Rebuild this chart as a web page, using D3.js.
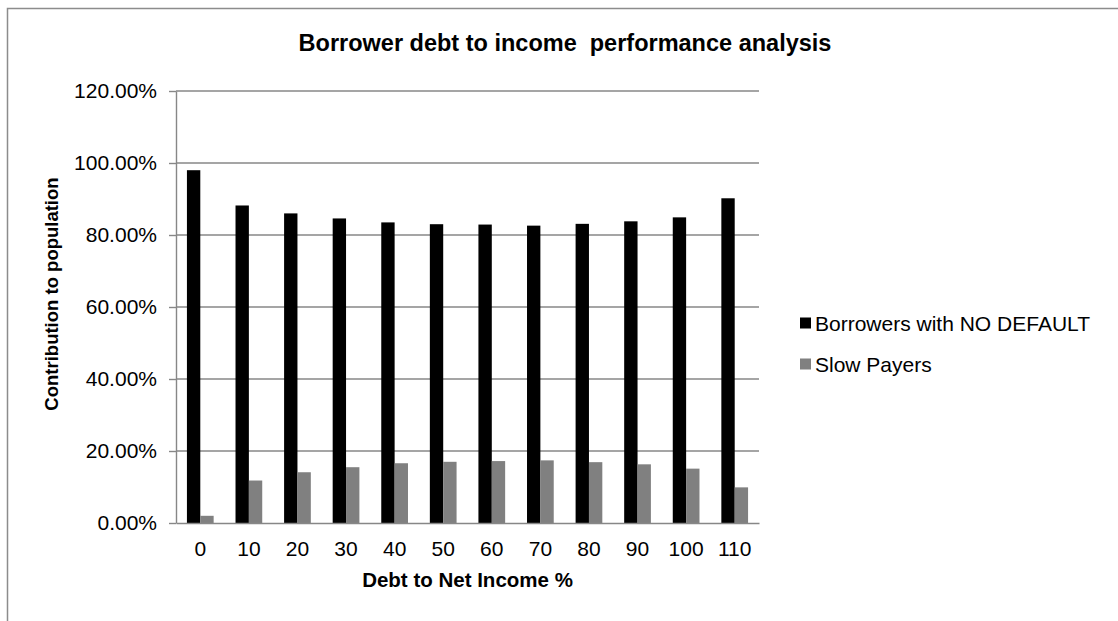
<!DOCTYPE html>
<html>
<head>
<meta charset="utf-8">
<script src="https://cdn.jsdelivr.net/npm/d3@7"></script>
<style>
    html, body { margin: 0; padding: 0; background: #fff; }
    text { font-family: "Liberation Sans", Arial, sans-serif; fill: #000; }
</style>
</head>
<body>
<div id="chart"></div>
<script>
// Debt to net income buckets (x axis)
const categories = ["0", "10", "20", "30", "40", "50", "60", "70", "80", "90", "100", "110"];

// Percent of population per bucket
const noDefault = [98.0, 88.2, 86.0, 84.6, 83.5, 83.0, 82.9, 82.6, 83.1, 83.8, 84.9, 90.2];
const slowPayers = [2.0, 11.8, 14.1, 15.5, 16.6, 17.0, 17.2, 17.4, 16.9, 16.3, 15.1, 9.9];

const yTicks = [0, 20, 40, 60, 80, 100, 120];

const series = [
    {label: "Borrowers with NO DEFAULT", color: "#000000", values: noDefault},
    {label: "Slow Payers", color: "#808080", values: slowPayers}
];

const width = 1118;
const height = 621;
const plot = {left: 176, right: 759, top: 91, bottom: 523};

const svg = d3.select("#chart").append("svg")
    .attr("width", width)
    .attr("height", height);

svg.append("rect")
    .attr("width", width)
    .attr("height", height)
    .attr("fill", "#fff");

// Outer chart frame
svg.append("rect")
    .attr("x", 7.5)
    .attr("y", 8.5)
    .attr("width", 1300)
    .attr("height", 800)
    .attr("fill", "none")
    .attr("stroke", "#8c8c8c")
    .attr("stroke-width", 1.5);

const x0 = d3.scaleBand()
    .domain(categories)
    .range([plot.left, plot.right])
    .paddingInner(0.45)
    .paddingOuter(0.225);

const x1 = d3.scaleBand()
    .domain(series.map(s => s.label))
    .range([0, x0.bandwidth()]);

const y = d3.scaleLinear()
    .domain([0, 120])
    .range([plot.bottom, plot.top]);

// Horizontal gridlines
svg.append("g")
    .selectAll("line")
    .data(yTicks.filter(d => d > 0))
    .join("line")
    .attr("x1", plot.left)
    .attr("x2", plot.right)
    .attr("y1", d => y(d))
    .attr("y2", d => y(d))
    .attr("stroke", "#878787")
    .attr("stroke-width", 1.4);

// Bars
categories.forEach((cat, i) => {
    svg.append("g")
        .selectAll("rect")
        .data(series)
        .join("rect")
        .attr("x", s => x0(cat) + x1(s.label))
        .attr("y", s => y(s.values[i]))
        .attr("width", x1.bandwidth())
        .attr("height", s => y(0) - y(s.values[i]))
        .attr("fill", s => s.color);
});

// Y axis
const yAxis = svg.append("g")
    .attr("transform", `translate(${plot.left},0)`)
    .call(d3.axisLeft(y)
        .tickValues(yTicks)
        .tickSize(7)
        .tickSizeOuter(0)
        .tickPadding(12)
        .tickFormat(d => d.toFixed(2) + "%"));
yAxis.selectAll("path, line").attr("stroke", "#878787").attr("stroke-width", 1.4);
yAxis.selectAll("text").style("font-size", "21px");

// X axis
const xAxis = svg.append("g")
    .attr("transform", `translate(0,${plot.bottom})`)
    .call(d3.axisBottom(x0)
        .tickSize(0)
        .tickSizeOuter(0)
        .tickPadding(18));
xAxis.select(".domain").attr("stroke", "#878787").attr("stroke-width", 1.4);
xAxis.selectAll("text").style("font-size", "21px");

// Title
svg.append("text")
    .attr("x", 565)
    .attr("y", 51)
    .attr("text-anchor", "middle")
    .style("font-size", "23.5px")
    .style("font-weight", "bold")
    .attr("xml:space", "preserve")
    .text("Borrower debt to income  performance analysis");

// Axis titles
svg.append("text")
    .attr("x", (plot.left + plot.right) / 2)
    .attr("y", 587)
    .attr("text-anchor", "middle")
    .style("font-size", "20.5px")
    .style("font-weight", "bold")
    .text("Debt to Net Income %");

svg.append("text")
    .attr("transform", "translate(58,294) rotate(-90)")
    .attr("text-anchor", "middle")
    .style("font-size", "18.5px")
    .style("font-weight", "bold")
    .text("Contribution to population");

// Legend
const legend = svg.append("g")
    .attr("transform", "translate(800,323)");

const items = legend.selectAll("g")
    .data(series)
    .join("g")
    .attr("transform", (d, i) => `translate(0,${i * 41})`);

items.append("rect")
    .attr("x", 0)
    .attr("y", -5.5)
    .attr("width", 11)
    .attr("height", 11)
    .attr("fill", d => d.color);

items.append("text")
    .attr("x", 15)
    .attr("dy", "0.36em")
    .style("font-size", "21px")
    .text(d => d.label);
</script>
</body>
</html>
